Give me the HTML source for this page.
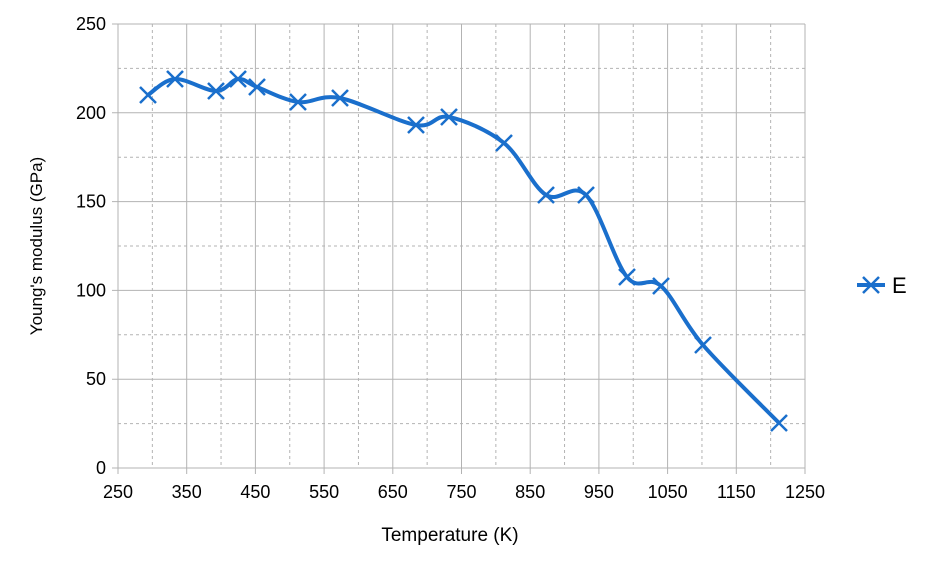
<!DOCTYPE html><html><head><style>body{margin:0;background:#fff}svg{display:block}text{font-family:"Liberation Sans",sans-serif;fill:#000}</style></head><body>
<svg width="927" height="569" viewBox="0 0 927 569">
<g id="g"></g>
<text x="450" y="541" font-size="19" text-anchor="middle">Temperature (K)</text>
<text transform="translate(42,246) rotate(-90)" font-size="17" text-anchor="middle">Young's modulus (GPa)</text>
<line x1="857" y1="285" x2="885" y2="285" stroke="#1a6fcc" stroke-width="4"/>
<path d="M863 277l16 16M879 277l-16 16" stroke="#1a6fcc" stroke-width="2.5"/>
<text x="892" y="293" font-size="22">E</text>
</svg>
<script>
const s=document.querySelector('svg'),g=document.getElementById('g'),ns='http://www.w3.org/2000/svg';
function el(t,a,p){const e=document.createElementNS(ns,t);for(const k in a)e.setAttribute(k,a[k]);(p||g).appendChild(e);return e}
const X=v=>118+(v-250)*0.687,Y=v=>468-v*1.776;
for(let v=300;v<1250;v+=100)el('line',{x1:X(v),x2:X(v),y1:24,y2:468,stroke:'#b3b3b3','stroke-dasharray':'3,3'});
for(let v=25;v<250;v+=50)el('line',{x1:118,x2:805,y1:Y(v),y2:Y(v),stroke:'#b3b3b3','stroke-dasharray':'3,3'});
for(let v=250;v<=1250;v+=100){el('line',{x1:X(v),x2:X(v),y1:24,y2:474,stroke:'#b3b3b3'});const t=el('text',{x:X(v),y:498,'font-size':18,'text-anchor':'middle'});t.textContent=v}
for(let v=0;v<=250;v+=50){el('line',{x1:112,x2:805,y1:Y(v),y2:Y(v),stroke:'#b3b3b3'});const t=el('text',{x:106,y:Y(v)+6,'font-size':18,'text-anchor':'end'});t.textContent=v}
const P=[[148,95],[175,79],[216,91],[238,79],[257,87],[298,102],[340,98],[416,125],[449,117],[504,143],[546,195],[586,195],[627,277],[661,286],[703,345],[779,423]];
let d='M'+P[0];
for(let i=0;i<P.length-1;i++){const p0=P[i-1]||P[i],p1=P[i],p2=P[i+1],p3=P[i+2]||p2;
d+=`C${p1[0]+(p2[0]-p0[0])/6},${p1[1]+(p2[1]-p0[1])/6} ${p2[0]-(p3[0]-p1[0])/6},${p2[1]-(p3[1]-p1[1])/6} ${p2[0]},${p2[1]}`}
el('path',{d,fill:'none',stroke:'#1a6fcc','stroke-width':4});
P.forEach(([x,y])=>el('path',{d:`M${x-8} ${y-8}l16 16M${x+8} ${y-8}l-16 16`,stroke:'#1a6fcc','stroke-width':2.5}));
</script></body></html>
